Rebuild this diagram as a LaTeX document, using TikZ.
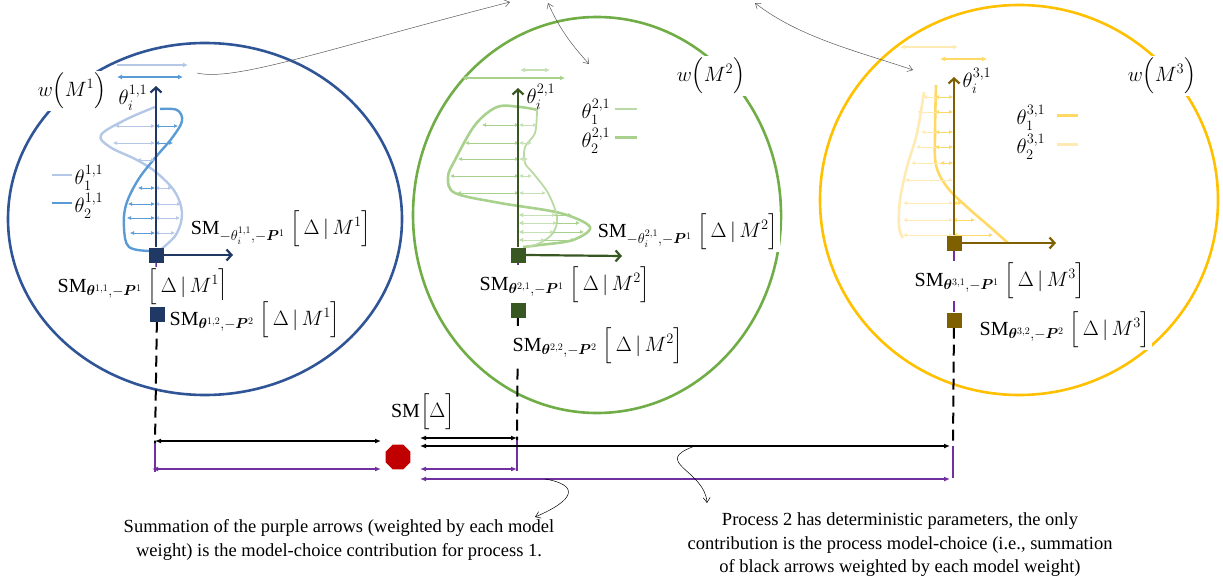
\documentclass[tikz,border=0pt]{standalone}
\usepackage{amsmath, amssymb, bm}
\usepackage{fontspec}
\setmainfont{Liberation Serif}
\usetikzlibrary{positioning,arrows.meta,shapes.geometric}
\pgfdeclarelayer{back}
\pgfsetlayers{back,main}
\definecolor{bluering}{HTML}{2F5597}
\definecolor{blueaxis}{HTML}{203864}
\definecolor{bluelight}{HTML}{B4C7E7}
\definecolor{bluemid}{HTML}{5B9BD5}
\definecolor{greenring}{HTML}{70AD47}
\definecolor{greenaxis}{HTML}{385723}
\definecolor{greenmid}{HTML}{A9D18E}
\definecolor{greenlight}{HTML}{C5E0B4}
\definecolor{goldring}{HTML}{FFC000}
\definecolor{goldaxis}{HTML}{7F6000}
\definecolor{goldmid}{HTML}{FFD966}
\definecolor{goldlight}{HTML}{FFEAB4}
\definecolor{mcpurple}{HTML}{7030A0}
\definecolor{dotred}{HTML}{C00000}
\newcommand{\smpos}[3]{$\mathrm{SM}_{\bm{\theta}^{#1},-\bm{P}^{#2}}\;\Bigl[\,\Delta\,|\,M^{#3}\Bigr]$}
\newcommand{\smneg}[2]{$\mathrm{SM}_{-\theta_i^{#1},-\bm{P}^{1}}\;\Bigl[\,\Delta\,|\,M^{#2}\Bigr]$}
\newcommand{\wmod}[1]{$w\Bigl(M^{#1}\Bigr)$}
\tikzset{
  ring/.style={draw, ellipse, line width=2.6pt, inner sep=0pt},
  marker/.style={rectangle, minimum size=15pt, inner sep=0pt},
  axisarrow/.style={-{Straight Barb[length=5pt,width=11pt]}, line width=2.2pt},
  fieldarrow/.style={{Latex[length=4pt,width=4pt]}-{Latex[length=4pt,width=4pt]}, line width=0.7pt},
  toparrow/.style={{Latex[length=5pt,width=5pt]}-{Latex[length=5pt,width=5pt]}, line width=1.6pt},
  sumarrow/.style={{Latex[length=6pt,width=5pt]}-{Latex[length=6pt,width=5pt]}, line width=1.6pt},
  dashline/.style={dash pattern=on 11pt off 6pt, line width=2pt},
  purpleline/.style={mcpurple, line width=1.5pt},
  smlabel/.style={fill=white, inner sep=1.5pt},
  note/.style={align=center, font=\fontsize{18.5}{23.5}\selectfont},
  pointer/.style={-{Straight Barb[length=5pt,width=7pt]}, line width=0.5pt, black!65},
  pointerboth/.style={{Straight Barb[length=5pt,width=7pt]}-{Straight Barb[length=5pt,width=7pt]}, line width=0.5pt, black!65}
}
\begin{document}
\begin{tikzpicture}[x=1pt, y=-1pt, >=Latex, every node/.style={font=\fontsize{20}{23}\selectfont}]
\useasboundingbox (0,0) rectangle (1223,588);

\begin{pgfonlayer}{back}
\node[ring, draw=bluering, minimum width=394pt, minimum height=352pt] (m1) at (205,219) {};
\node[ring, draw=greenring, minimum width=368pt, minimum height=396pt] (m2) at (597,215) {};
\node[ring, draw=goldring, minimum width=398pt, minimum height=390pt] (m3) at (1019,200) {};
\end{pgfonlayer}

% process 1
\draw[line width=2.4pt, bluelight] plot[smooth, tension=0.6] coordinates {(155,107) (125,120) (101,135) (110,147) (137,160) (157,173) (175,192) (182,213) (177,233) (165,246) (157,252)};
\draw[line width=2.4pt, bluemid] plot[smooth, tension=0.6] coordinates {(160,109) (177,110) (182,121) (172,138) (155,158) (138,180) (126,205) (124,228) (129,247) (150,251)};
\foreach \yy/\xx in {126/115, 143/113, 160/137}
  \draw[fieldarrow, bluelight] (\xx,\yy) -- (155,\yy);
\foreach \yy/\xx in {126/178, 143/173}
  \draw[fieldarrow, bluemid] (155,\yy) -- (\xx,\yy);
\foreach \yy/\xx in {188/138, 204/128, 218/127, 233/130}
  \draw[fieldarrow, bluemid] (\xx,\yy) -- (155,\yy);
\foreach \yy/\xx in {188/172, 204/181, 218/180, 233/175}
  \draw[fieldarrow, bluelight] (155,\yy) -- (\xx,\yy);
\draw[-{Latex[length=5pt,width=5pt]}, line width=1.6pt, bluelight] (117,65) -- (188,65);
\draw[toparrow, bluemid] (117,77) -- (183,77);
\draw[line width=2.4pt, bluelight] (52,175) -- (72,175);
\draw[line width=2.4pt, bluemid] (52,203) -- (72,203);
\node (l11) at (89,178) {$\theta_1^{1,1}$};
\node (l12) at (89,206) {$\theta_2^{1,1}$};
\node (ti1) at (133,98) {$\theta_i^{1,1}$};
\node[smlabel] (w1) at (72,91) {\wmod{1}};

% process 2
\draw[line width=2.6pt, greenmid] plot[smooth, tension=0.55] coordinates {(538,110) (520,107) (497,107) (475,125) (455,160) (448,177) (455,193) (500,203) (560,213) (590,227) (573,240) (540,245) (523,247)};
\draw[line width=1.8pt, greenmid!80] plot[smooth, tension=0.55] coordinates {(537,110) (535,133) (525,147) (525,163) (533,173) (548,193) (557,217) (553,233) (540,243) (527,247)};
\foreach \yy/\xx in {125/482, 143/465, 159/458, 176/450, 193/457}
  \draw[fieldarrow, greenmid] (\xx,\yy) -- (519,\yy);
\foreach \yy/\xx in {125/537, 143/532, 159/528, 176/532, 193/546}
  \draw[fieldarrow, greenlight] (519,\yy) -- (\xx,\yy);
\foreach \yy/\xx in {215/572, 223/580, 232/584, 240/575}
  \draw[fieldarrow, greenmid] (519,\yy) -- (\xx,\yy);
\foreach \yy/\xx in {215/556, 223/557, 232/554, 240/545}
  \draw[fieldarrow, greenlight] (519,\yy) -- (\xx,\yy);
\draw[toparrow, greenlight] (520,70) -- (550,70);
\draw[toparrow, greenmid] (462,78) -- (565,78);
\draw[line width=1.8pt, greenmid!80] (615,109) -- (637,109);
\draw[line width=3pt, greenmid] (615,138) -- (637,138);
\node (l21) at (596,112) {$\theta_1^{2,1}$};
\node (l22) at (596,141) {$\theta_2^{2,1}$};
\node (ti2) at (541,97) {$\theta_i^{2,1}$};
\node[smlabel] (w2) at (711,76) {\wmod{2}};

% process 3
\draw[line width=2.6pt, goldlight] plot[smooth, tension=0.6] coordinates {(924,92) (917,133) (907,167) (900,200) (899,227) (903,238)};
\draw[line width=2.6pt, goldmid] plot[smooth, tension=0.6] coordinates {(936,85) (935,133) (936,165) (947,187) (967,207) (990,227) (1008,243)};
\foreach \yy/\xx in {97/923, 112/917, 132/921, 147/916, 163/911, 180/905, 203/903, 220/903, 235/903}
  \draw[fieldarrow, goldlight] (\xx,\yy) -- (953,\yy);
\foreach \yy/\xx in {97/935, 112/935, 132/935, 147/935, 163/940}
  \draw[fieldarrow, goldmid] (\xx,\yy) -- (953,\yy);
\foreach \yy/\xx in {203/962, 220/975, 235/993}
  \draw[fieldarrow, goldmid] (953,\yy) -- (\xx,\yy);
\draw[toparrow, goldlight] (900,47) -- (958,47);
\draw[toparrow, goldmid] (940,59) -- (987,59);
\draw[line width=3pt, goldmid] (1057,116) -- (1078,116);
\draw[line width=3pt, goldlight] (1057,145) -- (1078,145);
\node (l31) at (1031,118) {$\theta_1^{3,1}$};
\node (l32) at (1031,147) {$\theta_2^{3,1}$};
\node (ti3) at (977,81) {$\theta_i^{3,1}$};
\node[smlabel] (w3) at (1162,76) {\wmod{3}};

% sensitivity labels
\node[smlabel] (sm1a) at (281,229) {\smneg{1,1}{1}};
\node[smlabel] (sm1b) at (143,287) {\smpos{1,1}{1}{1}};
\node[smlabel] (sm1c) at (255,320) {\smpos{1,2}{2}{1}};
\node[smlabel] (sm2a) at (688,232) {\smneg{2,1}{2}};
\node[smlabel] (sm2b) at (565,285) {\smpos{2,1}{1}{2}};
\node[smlabel] (sm2c) at (598,346) {\smpos{2,2}{2}{2}};
\node[smlabel] (sm3b) at (1000,281) {\smpos{3,1}{1}{3}};
\node[smlabel] (sm3c) at (1065,330) {\smpos{3,2}{2}{3}};

% axes and markers
\node[marker, fill=blueaxis] (s11) at (156,255) {};
\node[marker, fill=blueaxis] (s12) at (157,314) {};
\coordinate (t11) at (156,86);
\coordinate (h11) at (233,255);
\draw[axisarrow, blueaxis] (s11) -- (t11);
\draw[axisarrow, blueaxis] (s11) -- (h11);
\node[marker, fill=greenaxis] (s21) at (518,255) {};
\node[marker, fill=greenaxis] (s22) at (518,310) {};
\coordinate (t21) at (518,88);
\coordinate (h21) at (622,256);
\draw[axisarrow, greenaxis] (s21) -- (t21);
\draw[axisarrow, greenaxis] (s21.east) -- (h21);
\node[marker, fill=goldaxis] (s31) at (954,243) {};
\node[marker, fill=goldaxis] (s32) at (954,320) {};
\coordinate (t31) at (954,77);
\coordinate (h31) at (1056,243);
\draw[axisarrow, goldaxis] (s31) -- (t31);
\draw[axisarrow, goldaxis] (s31) -- (h31);

% vertical links
\coordinate (d1) at (155,443);
\coordinate (e1) at (155,472);
\coordinate (d2) at (517,440);
\coordinate (e2) at (517,471);
\coordinate (d3) at (953,446);
\coordinate (e3) at (953,478);
\begin{pgfonlayer}{back}
\draw[purpleline] (s11) -- (s12);
\draw[purpleline] (s21) -- (s22);
\draw[purpleline] (s31) -- (s32);
\draw[purpleline] (d1) -- (e1);
\draw[purpleline] (d2) -- (e2);
\draw[purpleline] (d3) -- (e3);
\draw[dashline] (s12) -- (d1);
\draw[dashline] (s22) -- (d2);
\draw[dashline] (s32) -- (d3);
\end{pgfonlayer}

% global measure
\node[regular polygon, regular polygon sides=8, fill=dotred, minimum size=27pt, inner sep=0pt] (smdot) at (398,457) {};
\node (smtot) at (423,412) {$\mathrm{SM}\Bigl[\Delta\Bigr]$};
\coordinate (b1l) at (155,441);
\coordinate (b1r) at (381,441);
\coordinate (p1l) at (152,469);
\coordinate (p1r) at (381,469);
\coordinate (b2l) at (420,438);
\coordinate (b2r) at (517,438);
\coordinate (b3l) at (420,446);
\coordinate (b3r) at (950,446);
\coordinate (p2l) at (420,469);
\coordinate (p2r) at (517,469);
\coordinate (p3l) at (420,479);
\coordinate (p3r) at (950,479);
\draw[sumarrow] (b1l) -- (b1r);
\draw[sumarrow, mcpurple] (p1l) -- (p1r);
\draw[sumarrow] (b2l) -- (b2r);
\draw[sumarrow] (b3l) -- (b3r);
\draw[sumarrow, mcpurple] (p2l) -- (p2r);
\draw[sumarrow, mcpurple] (p3l) -- (p3r);

\node[note] (noteA) at (339,540) {Summation of the purple arrows (weighted by each model\\ weight) is the model-choice contribution for process 1.};
\node[note] (noteB) at (900,545) {Process 2 has deterministic parameters, the only\\ contribution is the process model-choice (i.e., summation\\ of black arrows weighted by each model weight)};

\coordinate (q1) at (545,479);
\coordinate (q2) at (535,517);
\draw[pointer, black] (q1) .. controls (580,485) and (575,500) .. (q2);
\coordinate (q3) at (695,446);
\coordinate (q4) at (707,503);
\draw[pointer, black] (q3) .. controls (650,462) and (705,470) .. (q4);

\coordinate (g1a) at (197,73);
\coordinate (g1b) at (510,2);
\draw[pointer] (g1a) .. controls (235,82) and (330,48) .. (g1b);
\coordinate (g2a) at (548,3);
\coordinate (g2b) at (589,64);
\draw[pointerboth] (g2a) .. controls (560,30) and (572,45) .. (g2b);
\coordinate (g3a) at (755,3);
\coordinate (g3b) at (913,70);
\draw[pointerboth] (g3a) .. controls (800,38) and (860,52) .. (g3b);
\end{tikzpicture}
\end{document}
